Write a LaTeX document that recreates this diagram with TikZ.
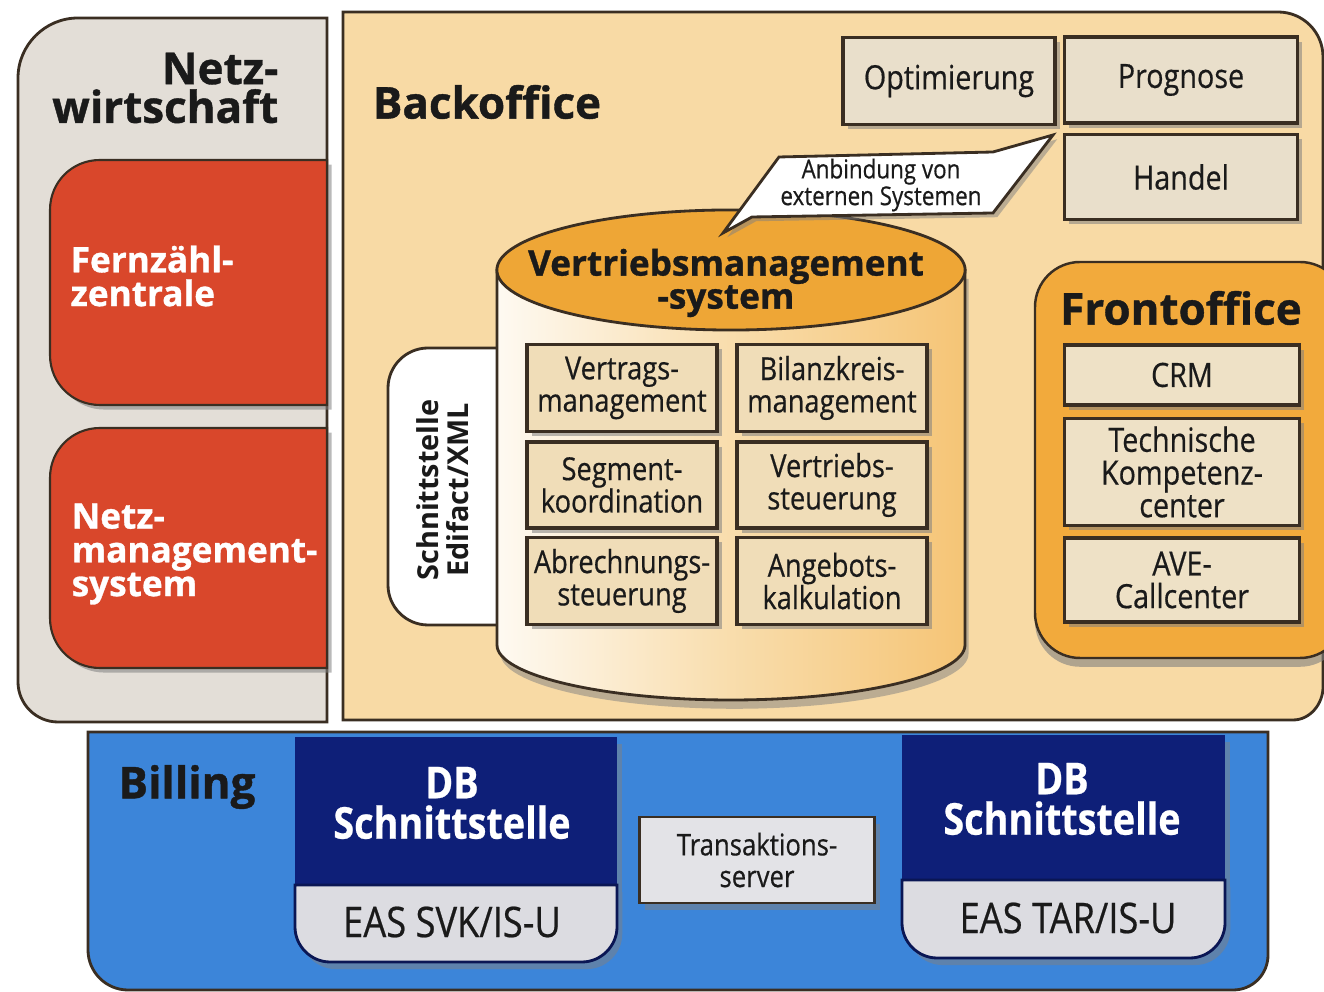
\documentclass[tikz,border=0pt]{standalone}
\usepackage{fontspec}
\setmainfont{Open Sans}
\newfontfamily\cond[FakeStretch=0.86,FakeBold=0.5]{Open Sans}
\newcommand{\hv}{\bfseries\addfontfeature{FakeBold=0.9}}
\usetikzlibrary{shadows}
\definecolor{netzgray}{HTML}{E3DED7}
\definecolor{backc}{HTML}{F8DAA5}
\definecolor{redc}{HTML}{D9472B}
\definecolor{foc}{HTML}{F2AA3C}
\definecolor{cyltop}{HTML}{EEA636}
\definecolor{gridc}{HTML}{F0DDB8}
\definecolor{topc}{HTML}{E9DFCB}
\definecolor{focbox}{HTML}{EEE1C6}
\definecolor{bblue}{HTML}{3C85D9}
\definecolor{navy}{HTML}{0E1F78}
\definecolor{lgray}{HTML}{DCDCE1}
\definecolor{boxline}{HTML}{3A2E22}
\definecolor{textc}{HTML}{1A1A1A}
\tikzset{
  edge/.style={draw=boxline, line width=0.8pt},
  shade1/.style={drop shadow={shadow xshift=1.3pt, shadow yshift=-1.3pt, opacity=0.55}},
  gbox/.style={draw=boxline, line width=0.9pt, fill=gridc, shade1, align=center, inner sep=0pt, text=textc,
    font=\cond\fontsize{9}{9.2}\selectfont},
  tbox/.style={gbox, fill=topc, font=\cond\fontsize{9.5}{9.5}\selectfont},
  fbox/.style={gbox, fill=focbox, font=\cond\fontsize{9.5}{9.3}\selectfont},
  title/.style={font=\fontsize{12.5}{11}\selectfont\hv, text=textc, inner sep=0pt},
  wtitle/.style={font=\fontsize{10}{9.6}\selectfont\hv, text=white, align=left, inner sep=0pt, anchor=west},
}
\begin{document}
\begin{tikzpicture}[x=0.01cm,y=-0.01cm]
\useasboundingbox (0,0) rectangle (1324,992);

% ---------- Billing ----------
\filldraw[fill=bblue, edge] (88,732) -- (1268,732) -- (1268,955) .. controls (1268,974) and (1253,990) .. (1233,990)
  -- (128,990) .. controls (106,990) and (88,972) .. (88,950) -- cycle;
\node[title, anchor=center] (billing) at (187,787) {Billing};

% left DB
\fill[navy, drop shadow={shadow xshift=1.5pt, shadow yshift=-2pt, opacity=0.5}] (295,737) rectangle (617,885);
\filldraw[fill=lgray, draw=navy!70!black, line width=0.8pt, drop shadow={shadow xshift=1.5pt, shadow yshift=-2pt, opacity=0.5}]
  (295,885) -- (617,885) -- (617,927) .. controls (617,946) and (601,962) .. (582,962) -- (330,962)
  .. controls (311,962) and (295,946) .. (295,927) -- cycle;
\node[font=\cond\fontsize{12.5}{11.5}\selectfont\bfseries, text=white, align=center, inner sep=0pt] (db1) at (452,803) {DB\\Schnittstelle};
\node[font=\cond\fontsize{12}{12}\selectfont, text=textc, inner sep=0pt] (eas1) at (452,922) {EAS SVK/IS-U};

% right DB
\fill[navy, drop shadow={shadow xshift=1.5pt, shadow yshift=-2pt, opacity=0.5}] (902,735) rectangle (1225,880);
\filldraw[fill=lgray, draw=navy!70!black, line width=0.8pt, drop shadow={shadow xshift=1.5pt, shadow yshift=-2pt, opacity=0.5}]
  (902,880) -- (1225,880) -- (1225,923) .. controls (1225,942) and (1209,958) .. (1190,958) -- (937,958)
  .. controls (918,958) and (902,942) .. (902,923) -- cycle;
\node[font=\cond\fontsize{12.5}{11.5}\selectfont\bfseries, text=white, align=center, inner sep=0pt] (db2) at (1062,799) {DB\\Schnittstelle};
\node[font=\cond\fontsize{12}{12}\selectfont, text=textc, inner sep=0pt] (eas2) at (1068,918) {EAS TAR/IS-U};

% Transaktionsserver
\node[draw=boxline, line width=0.8pt, fill=lgray!80!white, minimum width=2.35cm, minimum height=0.86cm,
  drop shadow={shadow xshift=1.5pt, shadow yshift=-2pt, opacity=0.5}, align=center, inner sep=0pt,
  font=\cond\fontsize{8.5}{9}\selectfont, text=textc] (trans) at (757,860) {Transaktions-\\server};

% ---------- Netzwirtschaft ----------
\filldraw[fill=netzgray, edge] (327,18) -- (78,18) .. controls (45,18) and (18,45) .. (18,78) -- (18,682)
  .. controls (18,704) and (36,722) .. (58,722) -- (327,722) -- cycle;
\node[title, align=right, anchor=east] (netzw) at (279,88) {Netz-\\wirtschaft};

\filldraw[fill=redc, draw=boxline, line width=0.6pt, shade1]
  (327,160) -- (100,160) .. controls (72,160) and (50,182) .. (50,210) -- (50,355)
  .. controls (50,383) and (72,405) .. (100,405) -- (327,405) -- cycle;
\node[wtitle] (fern) at (70,276) {Fernzähl-\\zentrale};

\filldraw[fill=redc, draw=boxline, line width=0.6pt, shade1]
  (327,428) -- (100,428) .. controls (72,428) and (50,450) .. (50,478) -- (50,618)
  .. controls (50,646) and (72,668) .. (100,668) -- (327,668) -- cycle;
\node[wtitle] (netzm) at (71,554) {Netz-\\management-\\system};

% ---------- Backoffice ----------
\filldraw[fill=backc, edge] (343,12) -- (1278,12) .. controls (1303,12) and (1323,32) .. (1323,57) -- (1323,687)
  .. controls (1323,704) and (1310,720) .. (1293,720) -- (343,720) -- cycle;
\node[title] (back) at (487,102) {Backoffice};

\node[tbox, minimum width=2.12cm, minimum height=0.87cm] (opt) at (949,81) {Optimierung};
\node[tbox, minimum width=2.33cm, minimum height=0.86cm] (prog) at (1181,80) {Prognose};
\node[tbox, minimum width=2.33cm, minimum height=0.85cm] (handel) at (1181,177) {Handel};

% Frontoffice
\filldraw[fill=foc, draw=boxline, line width=0.7pt, rounded corners=0.45cm,
  drop shadow={shadow xshift=0pt, shadow yshift=-2.5pt, opacity=0.6}] (1035,262) rectangle (1345,658);
\node[title] (front) at (1181,308) {Frontoffice};
\node[fbox, minimum width=2.35cm, minimum height=0.60cm] (crm) at (1182,375) {CRM};
\node[fbox, minimum width=2.35cm, minimum height=1.07cm] (tech) at (1182,472) {Technische\\Kompetenz-\\center};
\node[fbox, minimum width=2.35cm, minimum height=0.84cm] (ave) at (1182,580) {AVE-\\Callcenter};

% Schnittstelle tab
\filldraw[fill=white, draw=boxline, line width=0.8pt]
  (500,348) -- (428,348) .. controls (406,348) and (388,366) .. (388,388) -- (388,585)
  .. controls (388,607) and (406,625) .. (428,625) -- (500,625) -- cycle;
\node[rotate=90, align=center, inner sep=0pt, text=textc, font=\fontsize{8.2}{8.6}\selectfont\bfseries] (schn) at (443,490)
  {Schnittstelle\\Edifact/XML};

% Cylinder
\filldraw[left color=white!85!backc, right color=foc!45!backc, middle color=backc!92!white, edge,
  drop shadow={shadow xshift=1pt, shadow yshift=-2.5pt, opacity=0.5}]
  (497,270) -- (497,645) .. controls (497,675) and (602,700) .. (731,700)
  .. controls (860,700) and (965,675) .. (965,645) -- (965,270) -- cycle;
\filldraw[fill=cyltop, edge] (731,270) ellipse [x radius=2.34cm, y radius=0.6cm];
\node[align=center, inner sep=0pt, text=textc, font=\fontsize{10}{9.4}\selectfont\hv] (vms) at (726,283)
  {Vertriebsmanagement\\-system};

% Grid boxes
\node[gbox, minimum width=1.90cm, minimum height=0.87cm] (g11) at (622,388) {Vertrags-\\management};
\node[gbox, minimum width=1.90cm, minimum height=0.87cm] (g12) at (832,388) {Bilanzkreis-\\management};
\node[gbox, minimum width=1.90cm, minimum height=0.86cm] (g21) at (622,485) {Segment-\\koordination};
\node[gbox, minimum width=1.90cm, minimum height=0.86cm] (g22) at (832,485) {Vertriebs-\\steuerung};
\node[gbox, minimum width=1.90cm, minimum height=0.87cm] (g31) at (622,581) {Abrechnungs-\\steuerung};
\node[gbox, minimum width=1.90cm, minimum height=0.87cm] (g32) at (832,581) {Angebots-\\kalkulation};

% Speech bubble
\filldraw[fill=white, draw=boxline, line width=0.8pt, drop shadow={shadow xshift=1.2pt, shadow yshift=-1.2pt, opacity=0.5}]
  (779,157) -- (993,152) -- (1053,135) -- (993,213) -- (752,217) -- (723,233) -- cycle;
\node[align=center, inner sep=0pt, text=textc, font=\cond\fontsize{7.4}{7.6}\selectfont] (anb) at (881,185)
  {Anbindung von\\externen Systemen};

\end{tikzpicture}
\end{document}
